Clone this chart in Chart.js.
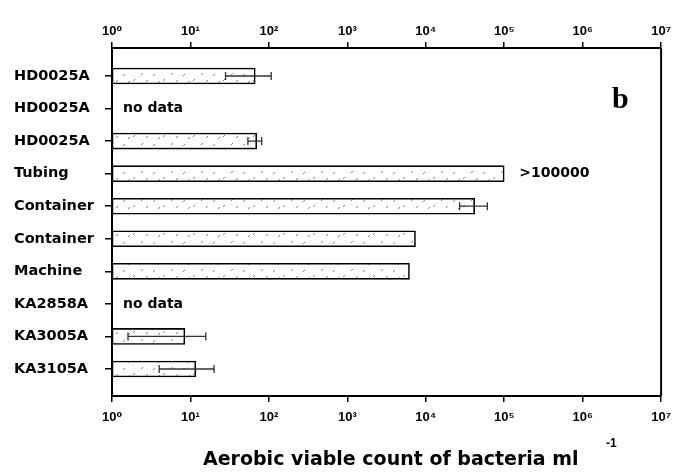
<!DOCTYPE html>
<html>
<head>
<meta charset="utf-8">
<script src="https://cdn.jsdelivr.net/npm/chart.js@4.4.0/dist/chart.umd.min.js"></script>
<style>
    html, body { margin: 0; padding: 0; background: #fff; }
    #marco { width: 679px; height: 472px; }
</style>
</head>
<body>
<div id="marco"><canvas id="grafica"></canvas></div>
<script>
// datos (b)
const muestras = ["HD0025A", "HD0025A", "HD0025A", "Tubing", "Container", "Container", "Machine", "KA2858A", "KA3005A", "KA3105A"];
const conteo = [67, null, 70, 100000, 42000, 7400, 6200, null, 8.5, 11.7];
const errorBajo = [28, null, 54, null, 27000, null, null, null, 1.6, 4];
const errorAlto = [107, null, 81, null, 61000, null, null, null, 15.7, 20];
const notas = [null, "no data", null, ">100000", null, null, null, "no data", null, null];
const decadas = [1, 10, 100, 1e3, 1e4, 1e5, 1e6, 1e7];
const exponentes = ["\u2070", "\u00b9", "\u00b2", "\u00b3", "\u2074", "\u2075", "\u2076", "\u2077"];

function patronPuntos() {
    const c = document.createElement("canvas");
    c.width = 30;
    c.height = 14;
    const g = c.getContext("2d");
    g.fillStyle = "#fff";
    g.fillRect(0, 0, 30, 14);
    g.strokeStyle = "#888";
    g.lineWidth = 1;
    [[3, 4], [13, 9], [21, 3], [26, 10], [8, 11]].forEach(([x, y]) => {
        g.beginPath();
        g.moveTo(x, y + 2);
        g.lineTo(x + 2, y);
        g.stroke();
    });
    return g.createPattern(c, "repeat");
}

function etiquetaDecada(v) {
    const k = Math.round(Math.log10(v));
    return "10" + exponentes[k];
}

const fuenteTicks = { family: "'Liberation Sans', Arial, 'DejaVu Sans'", size: 13, weight: "bold" };

function ejeLog(posicion, alto, separacion) {
    return {
        type: "logarithmic",
        position: posicion,
        min: 1,
        max: 1e7,
        afterBuildTicks: (s) => { s.ticks = decadas.map(v => ({ value: v })); },
        afterFit: (s) => { s.height = alto; },
        grid: { display: true, drawOnChartArea: false, drawTicks: true, tickLength: 6, color: "#000", lineWidth: 1.5 },
        border: { display: true, color: "#000", width: 2 },
        ticks: { color: "#000", font: fuenteTicks, padding: separacion, autoSkip: false, maxRotation: 0, callback: (v) => etiquetaDecada(v) }
    };
}

const barrasConDatos = [];
conteo.forEach((v, i) => {
    if (v !== null) barrasConDatos.push({ x: [1, v], y: i });
});

const anotaciones = {
    id: "anotaciones",
    afterDatasetsDraw(chart) {
        const ctx = chart.ctx;
        const ex = chart.scales.x;
        const ey = chart.scales.y;
        const area = chart.chartArea;
        ctx.save();

        // barras de error
        ctx.strokeStyle = "#333";
        ctx.lineWidth = 1.3;
        errorBajo.forEach((lo, i) => {
            if (lo === null) return;
            const y = ey.getPixelForValue(i);
            const x1 = ex.getPixelForValue(lo);
            const x2 = ex.getPixelForValue(errorAlto[i]);
            ctx.beginPath();
            ctx.moveTo(x1, y); ctx.lineTo(x2, y);
            ctx.moveTo(x1, y - 4); ctx.lineTo(x1, y + 4);
            ctx.moveTo(x2, y - 4); ctx.lineTo(x2, y + 4);
            ctx.stroke();
        });

        // textos
        ctx.fillStyle = "#000";
        ctx.textBaseline = "middle";
        ctx.textAlign = "left";
        ctx.font = "bold 14px 'DejaVu Sans'";
        notas.forEach((t, i) => {
            if (!t) return;
            const y = ey.getPixelForValue(i);
            const x = conteo[i] === null ? ex.getPixelForValue(1) + 11 : ex.getPixelForValue(conteo[i]) + 15;
            ctx.fillText(t, x, y);
        });

        ctx.font = "bold 30px 'Liberation Serif', 'Times New Roman', serif";
        ctx.textBaseline = "alphabetic";
        ctx.fillText("b", area.right - 49, 108);

        // borde derecho
        ctx.strokeStyle = "#000";
        ctx.lineWidth = 2;
        ctx.beginPath();
        ctx.moveTo(area.right, area.top);
        ctx.lineTo(area.right, area.bottom);
        ctx.stroke();

        // titulo del eje
        ctx.font = "bold 19px 'DejaVu Sans'";
        ctx.fillText("Aerobic viable count of bacteria ml", 203, 465);
        ctx.font = "bold 12px 'Liberation Sans', Arial";
        ctx.fillText("-1", 606, 447);
        ctx.restore();
    }
};

const ctxGrafica = document.getElementById("grafica").getContext("2d");
window.grafica = new Chart(ctxGrafica, {
    type: "bar",
    data: {
        datasets: [{
            data: barrasConDatos,
            backgroundColor: patronPuntos(),
            borderColor: "#000",
            borderWidth: 1.6,
            borderSkipped: false,
            barThickness: 16
        }]
    },
    options: {
        indexAxis: "y",
        responsive: true,
        maintainAspectRatio: false,
        animation: false,
        layout: { padding: { left: 14, right: 13, top: 0, bottom: 0 } },
        plugins: {
            legend: { display: false },
            tooltip: { enabled: false }
        },
        scales: {
            x: ejeLog("bottom", 76, 8),
            x2: ejeLog("top", 48, 3),
            y: {
                type: "linear",
                min: -0.86,
                max: 9.83,
                reverse: true,
                offset: false,
                afterBuildTicks: (s) => { s.ticks = muestras.map((m, i) => ({ value: i })); },
                afterFit: (s) => { s.width = 98; },
                grid: { display: true, offset: false, drawOnChartArea: false, drawTicks: true, tickLength: 7, color: "#000", lineWidth: 1.5 },
                border: { display: true, color: "#000", width: 2 },
                ticks: {
                    color: "#000",
                    crossAlign: "far",
                    padding: 12,
                    autoSkip: false,
                    font: { family: "'DejaVu Sans'", size: 14.5, weight: "bold" },
                    callback: (v) => muestras[v]
                }
            }
        }
    },
    plugins: [anotaciones]
});
</script>
</body>
</html>
